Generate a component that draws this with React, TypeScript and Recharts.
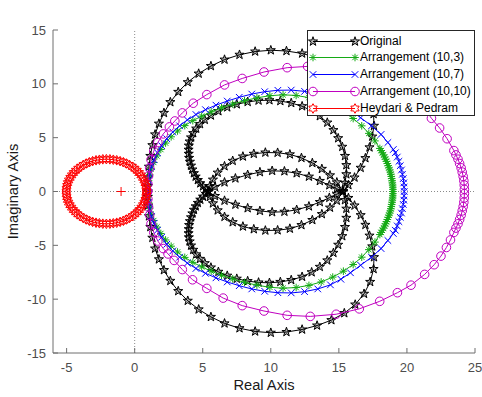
import { ScatterChart, Scatter, XAxis, YAxis, ReferenceLine } from "recharts";

const FONT = '"Liberation Sans", Arial, Helvetica, sans-serif';
const AXIS = "#6e6e6e";
const TICK_TEXT = "#4d4d4d";

const xTicks = [-5, 0, 5, 10, 15, 20, 25];
const yTicks = [-15, -10, -5, 0, 5, 10, 15];
const xDomain: [number, number] = [-6, 25];
const yDomain: [number, number] = [-15, 15];

const legendNames = [
  "Original",
  "Arrangement (10,3)",
  "Arrangement (10,7)",
  "Arrangement (10,10)",
  "Heydari & Pedram",
];

// Original: pieces of the black locus
const innerArcUpper = [
  [5.4, 0], [5.22, 0.22], [5.02, 0.48], [4.82, 0.76], [4.64, 1.06], [4.48, 1.38], [4.35, 1.7],
  [4.24, 2.04], [4.14, 2.4], [4.06, 2.76], [4.0, 3.12], [3.97, 3.5], [3.96, 3.88], [3.98, 4.26],
  [4.04, 4.64], [4.14, 5.02], [4.3, 5.42], [4.52, 5.84], [4.8, 6.26], [5.15, 6.66], [5.6, 7.06],
  [6.15, 7.46], [6.8, 7.82], [7.5, 8.1], [8.3, 8.32], [9.1, 8.45], [9.9, 8.48], [10.7, 8.4],
  [11.5, 8.22], [12.3, 7.92], [13.0, 7.5], [13.6, 7.0], [14.15, 6.4], [14.6, 5.7], [14.95, 4.95],
  [15.25, 4.15], [15.45, 3.3], [15.55, 2.45], [15.55, 1.6], [15.45, 0.8], [15.3, 0],
];
const innerArcLower = [
  [5.4, 0], [5.22, -0.22], [5.02, -0.48], [4.82, -0.76], [4.64, -1.06], [4.48, -1.38], [4.35, -1.7],
  [4.24, -2.04], [4.14, -2.4], [4.06, -2.76], [4.0, -3.12], [3.97, -3.5], [3.96, -3.88], [3.98, -4.26],
  [4.04, -4.64], [4.14, -5.02], [4.3, -5.42], [4.52, -5.84], [4.8, -6.26], [5.15, -6.66], [5.6, -7.06],
  [6.15, -7.46], [6.8, -7.82], [7.5, -8.1], [8.3, -8.32], [9.1, -8.45], [9.9, -8.48], [10.7, -8.4],
  [11.5, -8.22], [12.3, -7.92], [13.0, -7.5], [13.6, -7.0], [14.15, -6.4], [14.6, -5.7], [14.95, -4.95],
  [15.25, -4.15], [15.45, -3.3], [15.55, -2.45], [15.55, -1.6], [15.45, -0.8], [15.3, 0],
];
const innerLeafUpper = [
  [5.4, 0], [5.9, 0.42], [6.6, 0.85], [7.4, 1.22], [8.3, 1.55], [9.2, 1.8], [10.1, 1.92],
  [11.0, 1.88], [11.9, 1.7], [12.8, 1.38], [13.6, 0.98], [14.3, 0.58], [14.85, 0.25], [15.3, 0],
];
const innerLeafLower = [
  [5.4, 0], [5.9, -0.42], [6.6, -0.85], [7.4, -1.22], [8.3, -1.55], [9.2, -1.8], [10.1, -1.92],
  [11.0, -1.88], [11.9, -1.7], [12.8, -1.38], [13.6, -0.98], [14.3, -0.58], [14.85, -0.25], [15.3, 0],
];
const outerLeafUpper = [
  [5.4, 0], [5.52, 0.5], [5.75, 1.1], [6.1, 1.75], [6.6, 2.35], [7.2, 2.85], [7.95, 3.25],
  [8.75, 3.5], [9.6, 3.62], [10.5, 3.6], [11.4, 3.45], [12.25, 3.12], [13.05, 2.65], [13.75, 2.1],
  [14.35, 1.5], [14.85, 0.85], [15.3, 0],
];
const outerLeafLower = [
  [5.4, 0], [5.52, -0.5], [5.75, -1.1], [6.1, -1.75], [6.6, -2.35], [7.2, -2.85], [7.95, -3.25],
  [8.75, -3.5], [9.6, -3.62], [10.5, -3.6], [11.4, -3.45], [12.25, -3.12], [13.05, -2.65], [13.75, -2.1],
  [14.35, -1.5], [14.85, -0.85], [15.3, 0],
];
const outerLoopUpper = [
  [15.3, 0], [15.7, 0.6], [16.15, 1.3], [16.6, 2.2], [16.95, 3.1], [17.25, 4.1], [17.45, 5.1],
  [17.58, 6.1], [17.55, 7.2], [17.3, 8.4], [16.85, 9.5], [16.2, 10.5], [15.4, 11.3], [14.45, 11.95],
  [13.4, 12.45], [12.3, 12.82], [11.15, 13.05], [10.0, 13.12], [8.85, 13.0], [7.7, 12.7], [6.6, 12.25],
  [5.6, 11.65], [4.7, 10.95], [3.9, 10.15], [3.2, 9.25], [2.62, 8.3], [2.15, 7.3], [1.78, 6.3],
  [1.5, 5.3], [1.3, 4.3], [1.15, 3.3], [1.05, 2.3], [0.99, 1.3], [0.97, 0.5], [0.97, 0],
];
const outerLoopLower = [
  [0.97, -0.5], [0.99, -1.3], [1.05, -2.3], [1.15, -3.3], [1.3, -4.3], [1.5, -5.3], [1.78, -6.3],
  [2.15, -7.3], [2.62, -8.3], [3.2, -9.25], [3.9, -10.15], [4.7, -10.95], [5.6, -11.65], [6.6, -12.25],
  [7.7, -12.7], [8.85, -13.0], [10.0, -13.12], [11.15, -13.05], [12.3, -12.82], [13.4, -12.45],
  [14.45, -11.95], [15.4, -11.3], [16.2, -10.5], [16.85, -9.5], [17.3, -8.4], [17.55, -7.2],
  [17.58, -6.1], [17.45, -5.1], [17.25, -4.1], [16.95, -3.1], [16.6, -2.2], [16.15, -1.3], [15.7, -0.6],
  [15.3, 0],
];

// Arrangement (10,3)
const green = [
  [0.95, 0], [0.97, 0.5], [1.02, 1.0], [1.1, 1.55], [1.22, 2.1], [1.4, 2.7], [1.63, 3.3], [1.92, 3.9],
  [2.27, 4.5], [2.68, 5.08], [3.15, 5.62], [3.68, 6.12], [4.27, 6.58], [4.92, 7.0], [5.62, 7.4],
  [6.38, 7.78], [7.2, 8.12], [8.07, 8.44], [8.98, 8.7], [9.93, 8.9], [10.9, 8.98], [11.86, 8.92],
  [12.8, 8.72], [13.7, 8.4], [14.55, 7.95], [15.33, 7.4], [16.05, 6.78], [16.68, 6.1], [17.2, 5.4],
  [17.65, 4.7], [18.01, 4.0], [18.1, 3.8], [18.19, 3.6], [18.28, 3.4], [18.36, 3.2], [18.43, 3.0],
  [18.5, 2.8], [18.56, 2.6], [18.62, 2.4], [18.68, 2.2], [18.73, 2.0], [18.78, 1.8], [18.82, 1.6],
  [18.85, 1.4], [18.88, 1.2], [18.91, 1.0], [18.93, 0.8], [18.95, 0.6], [18.96, 0.4], [18.97, 0.2],
  [18.97, 0], [18.97, -0.2], [18.96, -0.4], [18.95, -0.6], [18.93, -0.8], [18.91, -1.0], [18.88, -1.2],
  [18.85, -1.4], [18.82, -1.6], [18.78, -1.8], [18.73, -2.0], [18.68, -2.2], [18.62, -2.4], [18.56, -2.6],
  [18.5, -2.8], [18.43, -3.0], [18.36, -3.2], [18.28, -3.4], [18.19, -3.6], [18.1, -3.8], [18.01, -4.0],
  [17.65, -4.7], [17.2, -5.4], [16.68, -6.1], [16.05, -6.78], [15.33, -7.4], [14.55, -7.95], [13.7, -8.4],
  [12.8, -8.72], [11.86, -8.92], [10.9, -8.98], [9.93, -8.9], [8.98, -8.7], [8.07, -8.44], [7.2, -8.12],
  [6.38, -7.78], [5.62, -7.4], [4.92, -7.0], [4.27, -6.58], [3.68, -6.12], [3.15, -5.62], [2.68, -5.08],
  [2.27, -4.5], [1.92, -3.9], [1.63, -3.3], [1.4, -2.7], [1.22, -2.1], [1.1, -1.55], [1.02, -1.0],
  [0.97, -0.5], [0.95, 0],
];

// Arrangement (10,7)
const blue = [
  [0.95, 0], [0.97, 0.5], [1.02, 1.05], [1.1, 1.65], [1.23, 2.3], [1.42, 2.95], [1.67, 3.6], [1.98, 4.25],
  [2.36, 4.9], [2.8, 5.52], [3.3, 6.1], [3.87, 6.65], [4.5, 7.15], [5.2, 7.6], [5.97, 8.02], [6.8, 8.4],
  [7.68, 8.75], [8.6, 9.05], [9.55, 9.27], [10.52, 9.4], [11.5, 9.42], [12.48, 9.3], [13.45, 9.05],
  [14.38, 8.67], [15.15, 8.15], [15.85, 7.55], [16.6, 6.85], [17.4, 6.1], [18.1, 5.3], [18.6, 4.55],
  [19.0, 3.9], [19.15, 3.6], [19.29, 3.2], [19.41, 2.8], [19.51, 2.4], [19.6, 2.0], [19.67, 1.6],
  [19.73, 1.2], [19.77, 0.8], [19.79, 0.4], [19.8, 0], [19.79, -0.4], [19.77, -0.8], [19.73, -1.2],
  [19.67, -1.6], [19.6, -2.0], [19.51, -2.4], [19.41, -2.8], [19.29, -3.2], [19.15, -3.6], [19.0, -3.9],
  [18.6, -4.55], [18.1, -5.3], [17.4, -6.1], [16.6, -6.85], [15.85, -7.55], [15.15, -8.15], [14.38, -8.67],
  [13.45, -9.05], [12.48, -9.3], [11.5, -9.42], [10.52, -9.4], [9.55, -9.27], [8.6, -9.05], [7.68, -8.75],
  [6.8, -8.4], [5.97, -8.02], [5.2, -7.6], [4.5, -7.15], [3.87, -6.65], [3.3, -6.1], [2.8, -5.52],
  [2.36, -4.9], [1.98, -4.25], [1.67, -3.6], [1.42, -2.95], [1.23, -2.3], [1.1, -1.65], [1.02, -1.05],
  [0.97, -0.5], [0.95, 0],
];

// Arrangement (10,10)
const magenta = [
  [0.95, 0], [0.97, 0.7], [1.02, 1.45], [1.1, 2.2], [1.2, 2.95], [1.4, 3.75], [1.7, 4.55], [2.1, 5.35],
  [2.55, 6.0], [2.95, 6.55], [3.5, 7.3], [4.3, 8.2], [5.3, 9.0], [6.6, 9.9], [7.9, 10.5], [9.5, 11.1],
  [11.2, 11.5], [12.7, 11.62], [14.3, 11.6], [15.9, 11.35], [17.4, 10.9], [18.8, 10.2], [20.0, 9.3],
  [21.0, 8.2], [21.8, 6.8], [22.4, 5.9], [22.95, 4.9], [23.45, 3.8], [23.6, 3.4], [23.75, 3.0],
  [23.87, 2.6], [23.98, 2.2], [24.06, 1.8], [24.13, 1.4], [24.18, 1.0], [24.21, 0.6], [24.22, 0.2],
  [24.22, -0.2], [24.21, -0.6], [24.18, -1.0], [24.13, -1.4], [24.06, -1.8], [23.98, -2.2], [23.87, -2.6],
  [23.75, -3.0], [23.6, -3.4], [23.45, -3.8], [23.2, -4.5], [22.9, -5.2], [22.5, -6.0], [22.0, -6.8],
  [21.3, -7.7], [20.3, -8.7], [19.3, -9.4], [18.0, -10.2], [16.5, -10.9], [14.8, -11.4], [12.9, -11.6],
  [11.2, -11.5], [9.5, -11.1], [7.9, -10.6], [6.5, -9.9], [5.3, -9.0], [4.25, -8.2], [3.5, -7.25],
  [2.9, -6.4], [2.45, -5.8], [2.1, -5.3], [1.7, -4.6], [1.4, -3.8], [1.2, -3.0], [1.1, -2.2],
  [1.02, -1.45], [0.97, -0.7], [0.95, 0],
];

// Heydari & Pedram
const red = [
  [0.87, 0], [0.86, 0.26], [0.83, 0.52], [0.77, 0.78], [0.69, 1.03], [0.59, 1.27], [0.47, 1.5],
  [0.34, 1.72], [0.18, 1.93], [0.01, 2.12], [-0.18, 2.3], [-0.39, 2.46], [-0.61, 2.6], [-0.83, 2.72],
  [-1.07, 2.82], [-1.32, 2.9], [-1.57, 2.95], [-1.82, 2.99], [-2.08, 3.0], [-2.34, 2.99], [-2.59, 2.95],
  [-2.84, 2.9], [-3.09, 2.82], [-3.33, 2.72], [-3.56, 2.6], [-3.77, 2.46], [-3.98, 2.3], [-4.17, 2.12],
  [-4.34, 1.93], [-4.5, 1.72], [-4.63, 1.5], [-4.75, 1.27], [-4.85, 1.03], [-4.93, 0.78], [-4.98, 0.52],
  [-5.02, 0.26], [-5.03, 0], [-5.02, -0.26], [-4.98, -0.52], [-4.93, -0.78], [-4.85, -1.03], [-4.75, -1.27],
  [-4.63, -1.5], [-4.5, -1.72], [-4.34, -1.93], [-4.17, -2.12], [-3.98, -2.3], [-3.77, -2.46], [-3.56, -2.6],
  [-3.33, -2.72], [-3.09, -2.82], [-2.84, -2.9], [-2.59, -2.95], [-2.34, -2.99], [-2.08, -3.0], [-1.82, -2.99],
  [-1.57, -2.95], [-1.32, -2.9], [-1.07, -2.82], [-0.83, -2.72], [-0.61, -2.6], [-0.39, -2.46], [-0.18, -2.3],
  [0.01, -2.12], [0.18, -1.93], [0.34, -1.72], [0.47, -1.5], [0.59, -1.27], [0.69, -1.03], [0.77, -0.78],
  [0.83, -0.52], [0.86, -0.26], [0.87, 0],
];

const criticalPoint = [[-1, 0]];

const toPts = (a: number[][]) => a.map(([x, y]) => ({ x, y }));
const rev = (a: number[][]) => [...a].reverse();

const originalPath = [
  ...innerArcUpper,
  ...rev(innerLeafUpper).slice(1),
  ...outerLeafUpper.slice(1),
  ...outerLoopUpper.slice(1),
  ...outerLoopLower,
  ...rev(outerLeafLower).slice(1),
  ...innerLeafLower.slice(1),
  ...rev(innerArcLower).slice(1),
];

// ---- markers ----
function starPoints(cx: number, cy: number, n: number, ro: number, ri: number) {
  const p: string[] = [];
  for (let i = 0; i < 2 * n; i++) {
    const r = i % 2 === 0 ? ro : ri;
    const a = -Math.PI / 2 + (i * Math.PI) / n;
    p.push(`${(cx + r * Math.cos(a)).toFixed(2)},${(cy + r * Math.sin(a)).toFixed(2)}`);
  }
  return p.join(" ");
}

type MarkerProps = { cx?: number; cy?: number; color: string };

function Pentagram({ cx = 0, cy = 0, color }: MarkerProps) {
  return (
    <polygon
      points={starPoints(cx, cy, 5, 4.8, 1.9)}
      fill={color}
      fillOpacity={0.3}
      stroke={color}
      strokeWidth={1}
    />
  );
}
function Hexagram({ cx = 0, cy = 0, color }: MarkerProps) {
  return <polygon points={starPoints(cx, cy, 6, 4.8, 2.75)} fill="none" stroke={color} strokeWidth={1} />;
}
function Asterisk({ cx = 0, cy = 0, color }: MarkerProps) {
  const r = 3.8;
  const d = 2.7;
  return (
    <path
      d={`M${cx - r},${cy}H${cx + r}M${cx},${cy - r}V${cy + r}M${cx - d},${cy - d}L${cx + d},${cy + d}M${cx - d},${cy + d}L${cx + d},${cy - d}`}
      stroke={color}
      strokeWidth={1}
      fill="none"
    />
  );
}
function Cross({ cx = 0, cy = 0, color }: MarkerProps) {
  const d = 3.3;
  return (
    <path
      d={`M${cx - d},${cy - d}L${cx + d},${cy + d}M${cx - d},${cy + d}L${cx + d},${cy - d}`}
      stroke={color}
      strokeWidth={1}
      fill="none"
    />
  );
}
function Ring({ cx = 0, cy = 0, color }: MarkerProps) {
  return <circle cx={cx} cy={cy} r={4.3} fill="none" stroke={color} strokeWidth={1} />;
}
function Plus({ cx = 0, cy = 0, color }: MarkerProps) {
  const r = 4.5;
  return <path d={`M${cx - r},${cy}H${cx + r}M${cx},${cy - r}V${cy + r}`} stroke={color} strokeWidth={1} fill="none" />;
}

const series = [
  { name: legendNames[0], color: "#000000", data: toPts(originalPath), Marker: Pentagram },
  { name: legendNames[1], color: "#14aa14", data: toPts(green), Marker: Asterisk },
  { name: legendNames[2], color: "#0000ff", data: toPts(blue), Marker: Cross },
  { name: legendNames[3], color: "#c000c0", data: toPts(magenta), Marker: Ring },
  { name: legendNames[4], color: "#ff0000", data: toPts(red), Marker: Hexagram },
];

function LegendBox() {
  return (
    <div
      style={{
        position: "absolute",
        left: 307,
        top: 30,
        width: 168,
        height: 86,
        boxSizing: "border-box",
        border: "1px solid #262626",
        background: "#ffffff",
        fontFamily: FONT,
      }}
    >
      {series.map((s, i) => (
        <div
          key={s.name}
          style={{
            position: "absolute",
            left: -1,
            top: 1.5 + i * 16.85,
            height: 17,
            display: "flex",
            alignItems: "center",
            whiteSpace: "nowrap",
          }}
        >
          <svg width={53} height={17} style={{ display: "block" }}>
            <line x1={6} y1={8.5} x2={48} y2={8.5} stroke={s.color} strokeWidth={1} />
            <s.Marker cx={6} cy={8.5} color={s.color} />
            <s.Marker cx={48} cy={8.5} color={s.color} />
          </svg>
          <span style={{ fontSize: 12, color: "#000", lineHeight: "17px" }}>{s.name}</span>
        </div>
      ))}
    </div>
  );
}

export default function App() {
  return (
    <div style={{ position: "absolute", left: 0, top: 0, width: 482, height: 397, background: "#fff" }}>
      <ScatterChart width={482} height={397} margin={{ top: 30, right: 7, bottom: 14, left: 13 }}>
        <XAxis
          xAxisId={0}
          dataKey="x"
          type="number"
          domain={xDomain}
          ticks={xTicks}
          allowDataOverflow
          height={30}
          tickSize={-5}
          tickMargin={15}
          axisLine={{ stroke: AXIS }}
          tickLine={{ stroke: AXIS }}
          tick={{ fill: TICK_TEXT, fontSize: 13, fontFamily: FONT }}
          label={{ value: "Real Axis", position: "bottom", offset: -3, fill: "#1a1a1a", fontSize: 14.7, fontFamily: FONT }}
        />
        <XAxis
          xAxisId="top"
          orientation="top"
          type="number"
          domain={xDomain}
          ticks={xTicks}
          allowDataOverflow
          height={0}
          tickSize={-5}
          tick={false}
          axisLine={{ stroke: AXIS }}
          tickLine={{ stroke: AXIS }}
          label={{ value: "Nyquist Diagram", position: "top", offset: 11, fill: "#000", fontSize: 14.7, fontWeight: "bold", fontFamily: FONT }}
        />
        <YAxis
          yAxisId={0}
          dataKey="y"
          type="number"
          domain={yDomain}
          ticks={yTicks}
          allowDataOverflow
          width={40}
          tickSize={-5}
          tickMargin={12}
          axisLine={{ stroke: AXIS }}
          tickLine={{ stroke: AXIS }}
          tick={{ fill: TICK_TEXT, fontSize: 13, fontFamily: FONT }}
          label={{
            value: "Imaginary Axis",
            angle: -90,
            position: "insideLeft",
            offset: 0,
            fill: "#1a1a1a",
            fontSize: 14.7,
            fontFamily: FONT,
            style: { textAnchor: "middle" },
          }}
        />
        <YAxis
          yAxisId="right"
          orientation="right"
          type="number"
          domain={yDomain}
          ticks={yTicks}
          allowDataOverflow
          width={0}
          tickSize={-5}
          tick={false}
          axisLine={{ stroke: AXIS }}
          tickLine={{ stroke: AXIS }}
        />
        <ReferenceLine x={0} stroke="#8a8a8a" strokeDasharray="1 2" />
        <ReferenceLine y={0} stroke="#8a8a8a" strokeDasharray="1 2" />
        {series.map((s) => (
          <Scatter
            key={s.name}
            name={s.name}
            data={s.data}
            line={{ stroke: s.color, strokeWidth: 1 }}
            lineType="joint"
            legendType="none"
            isAnimationActive={false}
            shape={(p: any) => <s.Marker cx={p.cx} cy={p.cy} color={s.color} />}
          />
        ))}
        <Scatter
          name="critical"
          data={toPts(criticalPoint)}
          legendType="none"
          isAnimationActive={false}
          shape={(p: any) => <Plus cx={p.cx} cy={p.cy} color="#ff0000" />}
        />
      </ScatterChart>
      <LegendBox />
    </div>
  );
}
